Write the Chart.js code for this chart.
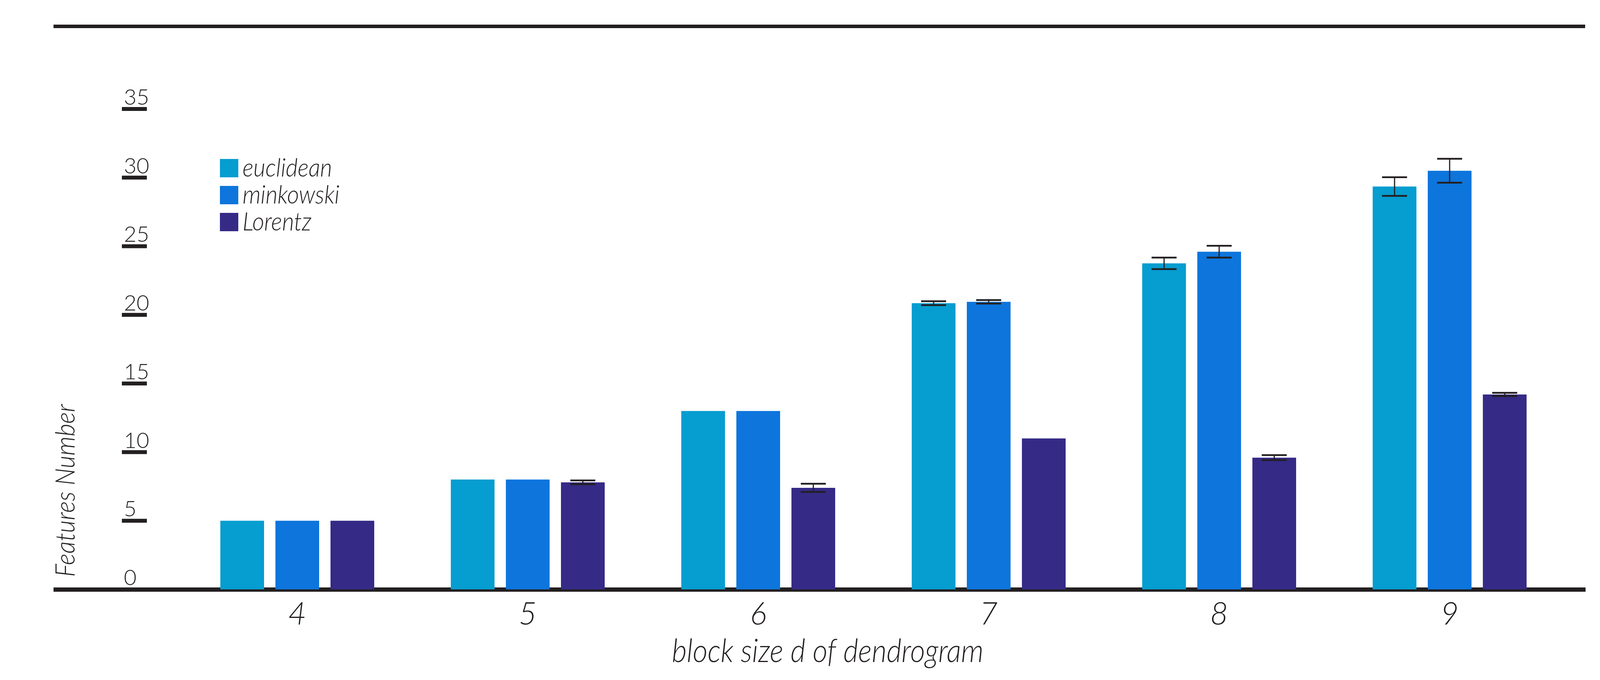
<!DOCTYPE html>
<html lang="en">
<head>
<meta charset="UTF-8">
<title>Features Number by block size</title>
<script src="https://cdn.jsdelivr.net/npm/chart.js"></script>
<style>
  html, body { margin: 0; padding: 0; background: #fff; }
  #chart { display: block; }
</style>
</head>
<body>
<canvas id="chart" width="4125" height="1741"></canvas>
<script>
// block size d of the dendrogram (x axis)
const blockSizes = [4, 5, 6, 7, 8, 9];
const yTicks = [0, 5, 10, 15, 20, 25, 30, 35];

const seriesNames = ['euclidean', 'minkowski', 'Lorentz'];
const seriesColors = ['#069dd0', '#0d75dc', '#352a86'];

// features number per block size
const euclidean = [5.0, 8.0, 13.0, 20.85, 23.75, 29.35];
const minkowski = [5.0, 8.0, 13.0, 20.95, 24.6, 30.5];
const lorentz = [5.0, 7.8, 7.4, 11.0, 9.6, 14.2];

// half length of the error bars (0 = no bar)
const euclideanErr = [0, 0, 0, 0.14, 0.42, 0.68];
const minkowskiErr = [0, 0, 0, 0.13, 0.43, 0.87];
const lorentzErr = [0, 0.14, 0.3, 0, 0.18, 0.12];

const ink = '#231f20';
const family = "Lato, 'Liberation Sans', sans-serif";
const squeeze = 0.9; // the original type is a condensed face

function points(values) {
    return blockSizes.map((b, i) => ({ x: b, y: values[i] }));
}

// draw text squeezed horizontally
function narrowText(ctx, text, x, y, font, align, angle) {
    ctx.save();
    ctx.translate(x, y);
    if (angle) ctx.rotate(angle);
    ctx.scale(squeeze, 1);
    ctx.font = font;
    ctx.textAlign = align;
    ctx.textBaseline = 'alphabetic';
    ctx.fillStyle = ink;
    ctx.fillText(text, 0, 0);
    ctx.restore();
}

// rules, y tick marks, error bars, legend and axis titles
const decorations = {
    id: 'decorations',
    beforeDatasetsDraw(chart) {
        const ctx = chart.ctx;
        const area = chart.chartArea;
        const y = chart.scales.y;
        ctx.save();
        ctx.fillStyle = ink;
        // top rule
        ctx.fillRect(area.left - 5, 63, area.right - area.left + 5, 9);
        // short tick marks under the y labels
        yTicks.forEach(v => {
            if (v === 0) return;
            const py = y.getPixelForValue(v);
            ctx.fillRect(y.right + 170, py - 5, 64, 10);
        });
        ctx.restore();
    },
    afterDatasetsDraw(chart) {
        const ctx = chart.ctx;
        const y = chart.scales.y;
        ctx.save();
        ctx.strokeStyle = ink;
        chart.data.datasets.forEach((ds, di) => {
            const meta = chart.getDatasetMeta(di);
            meta.data.forEach((bar, i) => {
                const e = ds.errors[i];
                if (!e) return;
                const v = ds.data[i].y;
                const top = y.getPixelForValue(v + e);
                const bottom = y.getPixelForValue(v - e);
                ctx.lineWidth = 3;
                ctx.beginPath();
                ctx.moveTo(bar.x, top);
                ctx.lineTo(bar.x, bottom);
                ctx.stroke();
                ctx.lineWidth = 4.5;
                ctx.beginPath();
                ctx.moveTo(bar.x - 32, top);
                ctx.lineTo(bar.x + 32, top);
                ctx.moveTo(bar.x - 32, bottom);
                ctx.lineTo(bar.x + 32, bottom);
                ctx.stroke();
            });
        });
        ctx.restore();
    },
    afterDraw(chart) {
        const ctx = chart.ctx;
        // legend
        chart.data.datasets.forEach((ds, i) => {
            const top = 407 + i * 69;
            ctx.fillStyle = ds.backgroundColor;
            ctx.fillRect(563, top, 47, 47);
            narrowText(ctx, ds.label, 621, top + 45, 'italic 300 66px ' + family, 'left');
        });
        // axis titles
        narrowText(ctx, 'Features Number', 191, 1256, 'italic 300 70px ' + family, 'center', -Math.PI / 2);
        narrowText(ctx, 'block size d of dendrogram', 2119, 1695, 'italic 300 82px ' + family, 'center');
    }
};

new Chart(document.getElementById('chart'), {
    type: 'bar',
    data: {
        datasets: [
            { label: seriesNames[0], data: points(euclidean), errors: euclideanErr, backgroundColor: seriesColors[0] },
            { label: seriesNames[1], data: points(minkowski), errors: minkowskiErr, backgroundColor: seriesColors[1] },
            { label: seriesNames[2], data: points(lorentz), errors: lorentzErr, backgroundColor: seriesColors[2] }
        ]
    },
    options: {
        responsive: false,
        devicePixelRatio: 1,
        animation: false,
        categoryPercentage: 0.717,
        barPercentage: 0.794,
        borderWidth: 0,
        layout: { padding: { left: 142, right: 67, top: 279, bottom: 0 } },
        plugins: {
            legend: { display: false },
            tooltip: { enabled: false }
        },
        scales: {
            x: {
                type: 'linear',
                offset: false,
                min: 2.9508,
                max: 9.588,
                afterBuildTicks: s => { s.ticks = blockSizes.map(v => ({ value: v })); },
                afterFit: s => { s.height = 232; },
                grid: { display: false, drawTicks: false },
                border: { display: true, width: 11, color: ink },
                ticks: {
                    color: ink,
                    padding: 16,
                    maxRotation: 0,
                    font: { family: family, size: 80, style: 'italic', weight: 300 }
                }
            },
            y: {
                min: 0,
                max: 35,
                afterBuildTicks: s => { s.ticks = yTicks.map(v => ({ value: v })); },
                afterFit: s => { s.width = 0; },
                grid: { display: false, drawTicks: false },
                border: { display: false },
                ticks: {
                    mirror: true,
                    padding: 175,
                    labelOffset: -29,
                    color: ink,
                    font: { family: family, size: 56, weight: 300 }
                }
            }
        }
    },
    plugins: [decorations]
});
</script>
</body>
</html>
